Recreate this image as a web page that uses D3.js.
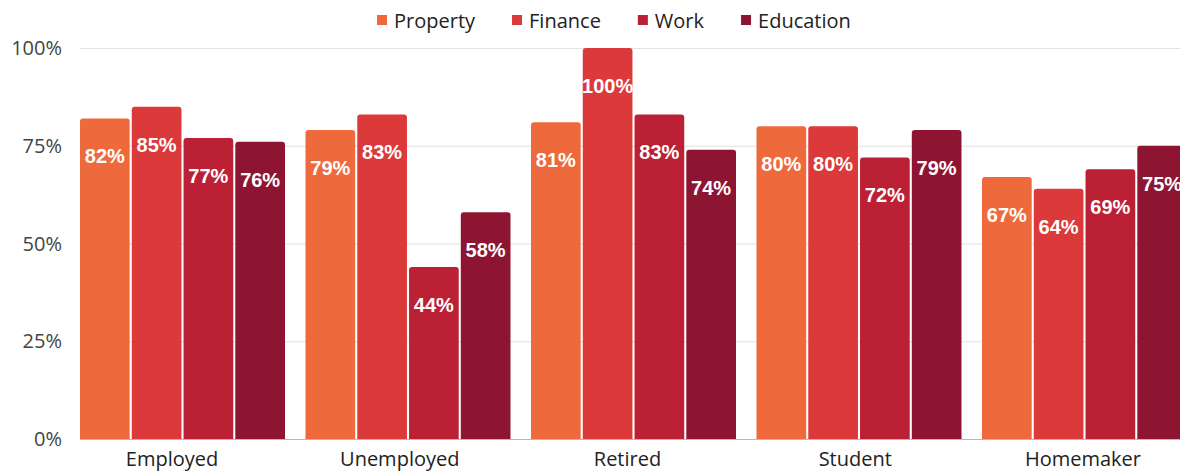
<!DOCTYPE html>
<html>
<head>
<meta charset="utf-8">
<script src="https://cdn.jsdelivr.net/npm/d3@7"></script>
<style>
  html, body { margin: 0; padding: 0; background: #fff; }
  svg { display: block; }
</style>
</head>
<body>
<svg id="chart" width="1180" height="474"></svg>
<script>
// Share of respondents by employment status, per topic
const categories = ["Employed", "Unemployed", "Retired", "Student", "Homemaker"];
const seriesNames = ["Property", "Finance", "Work", "Education"];
const property  = [82, 79, 81, 80, 67];
const finance   = [85, 83, 100, 80, 64];
const work      = [77, 44, 83, 72, 69];
const education = [76, 58, 74, 79, 75];
const yTicks = [0, 25, 50, 75, 100];
const colors = ["#EE6A3C", "#DC393A", "#BC2035", "#8E1532"];

const seriesValues = [property, finance, work, education];

const svg = d3.select("#chart");
const W = 1180, H = 474;
const margin = { left: 80, top: 48, bottom: 35 };

const x0 = d3.scaleBand()
  .domain(categories)
  .range([margin.left, 1187])
  .paddingInner(0.0909)
  .paddingOuter(0);

const x1 = d3.scaleBand()
  .domain(seriesNames)
  .range([0, x0.bandwidth()])
  .paddingInner(0.04);

const y = d3.scaleLinear()
  .domain([0, 100])
  .range([H - margin.bottom, margin.top]);

const color = d3.scaleOrdinal().domain(seriesNames).range(colors);

// Gridlines
svg.append("g")
  .selectAll("line")
  .data(yTicks)
  .join("line")
  .attr("x1", margin.left)
  .attr("x2", W)
  .attr("y1", d => y(d) + 0.5)
  .attr("y2", d => y(d) + 0.5)
  .attr("stroke", d => d === 0 ? "#b8b8b8" : "#e2e2e2")
  .attr("stroke-width", 1.2);

// Y axis labels
svg.append("g")
  .selectAll("text")
  .data(yTicks)
  .join("text")
  .attr("x", 62)
  .attr("y", d => y(d))
  .attr("dy", "0.36em")
  .attr("text-anchor", "end")
  .attr("font-family", "'Open Sans', sans-serif")
  .attr("font-size", 20)
  .attr("fill", "#444")
  .text(d => d + "%");

// Bars with rounded top corners
function barPath(x, yTop, w, yBase, r) {
  r = Math.min(r, w / 2, yBase - yTop);
  return `M${x},${yBase}V${yTop + r}Q${x},${yTop} ${x + r},${yTop}` +
         `H${x + w - r}Q${x + w},${yTop} ${x + w},${yTop + r}V${yBase}Z`;
}

const rows = categories.map((c, i) => ({
  category: c,
  values: seriesNames.map((s, j) => ({ series: s, value: seriesValues[j][i] }))
}));

const groups = svg.append("g")
  .selectAll("g")
  .data(rows)
  .join("g")
  .attr("transform", d => `translate(${x0(d.category)},0)`);

groups.selectAll("path")
  .data(d => d.values)
  .join("path")
  .attr("d", d => barPath(x1(d.series), y(d.value), x1.bandwidth(), y(0), 3))
  .attr("fill", d => color(d.series));

groups.selectAll("text")
  .data(d => d.values)
  .join("text")
  .attr("x", d => x1(d.series) + x1.bandwidth() / 2)
  .attr("y", d => y(d.value) + 45)
  .attr("text-anchor", "middle")
  .attr("font-family", "'Liberation Sans', Arial, sans-serif")
  .attr("font-weight", "bold")
  .attr("font-size", 20)
  .attr("fill", "#fff")
  .text(d => d.value + "%");

// Category labels
const xLabel = d3.scalePoint().domain(categories).range([172, 1083]);
svg.append("g")
  .selectAll("text")
  .data(categories)
  .join("text")
  .attr("x", d => xLabel(d))
  .attr("y", 466)
  .attr("text-anchor", "middle")
  .attr("font-family", "'Open Sans', sans-serif")
  .attr("font-size", 20)
  .attr("fill", "#222")
  .text(d => d);

// Legend
const legend = svg.append("g").attr("transform", "translate(377,0)");
let lx = 0;
seriesNames.forEach(s => {
  const item = legend.append("g").attr("transform", `translate(${lx},0)`);
  item.append("rect")
    .attr("x", 0).attr("y", 15)
    .attr("width", 10).attr("height", 10)
    .attr("fill", color(s));
  const t = item.append("text")
    .attr("x", 17).attr("y", 27.5)
    .attr("font-family", "'Open Sans', sans-serif")
    .attr("font-size", 20)
    .attr("fill", "#222")
    .text(s);
  lx += 17 + t.node().getComputedTextLength() + 37;
});
</script>
</body>
</html>
